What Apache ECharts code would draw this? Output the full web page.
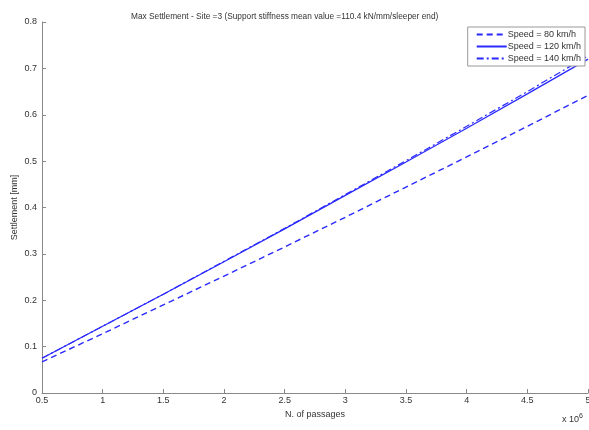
<!DOCTYPE html>
<html>
<head>
<meta charset="utf-8">
<script src="https://cdn.jsdelivr.net/npm/echarts@6/dist/echarts.min.js"></script>
<style>html,body{margin:0;padding:0;background:#fff}#c{width:589px;height:430px}</style>
</head>
<body>
<div id="c"></div>
<script>
var passages = [0.5, 1.0, 1.5, 2.0, 2.5, 3.0, 3.5, 4.0, 4.5, 5.0];
var speed80 = [0.067, 0.128, 0.190, 0.252, 0.315, 0.379, 0.444, 0.509, 0.575, 0.642];
var speed120 = [0.075, 0.144, 0.213, 0.283, 0.354, 0.426, 0.498, 0.571, 0.645, 0.720];
var speed140 = [0.075, 0.144, 0.213, 0.284, 0.355, 0.428, 0.501, 0.575, 0.650, 0.727];
var seriesNames = ['Speed = 80 km/h', 'Speed = 120 km/h', 'Speed = 140 km/h'];
var yTicks = [0, 0.1, 0.2, 0.3, 0.4, 0.5, 0.6, 0.7, 0.8];
var xTicks = [0.5, 1, 1.5, 2, 2.5, 3, 3.5, 4, 4.5, 5];

function pairs(xs, ys) { return xs.map(function (x, i) { return [x, ys[i]]; }); }

var FONT = 'Liberation Sans, Arial, sans-serif';
var TXT = '#333';
var AX = '#888';
var BLUE = '#2a2aff';

var chart = echarts.init(document.getElementById('c'), null, { renderer: 'canvas' });
chart.setOption({
  backgroundColor: '#fff',
  animation: false,
  title: {
    text: 'Max Settlement - Site =3 (Support stiffness mean value =110.4 kN/mm/sleeper end)',
    left: 126, top: 8, textAlign: 'left',
    textStyle: { fontFamily: FONT, fontSize: 8.3, fontWeight: 'normal', color: TXT }
  },
  grid: { left: 42, top: 22, right: 1, bottom: 37, containLabel: false, outerBoundsMode: 'none' },
  legend: {
    orient: 'vertical', right: 4, top: 27,
    backgroundColor: '#fff', borderColor: '#999', borderWidth: 1,
    padding: [3, 4, 3, 8], itemGap: 3, itemWidth: 30, itemHeight: 10,
    itemStyle: { opacity: 0 },
    textStyle: { fontFamily: FONT, fontSize: 9, color: TXT, padding: [0, 0, 0, -4] },
    data: seriesNames
  },
  xAxis: {
    type: 'value', min: xTicks[0], max: xTicks[xTicks.length - 1], interval: 0.5,
    name: 'N. of passages', nameLocation: 'middle', nameGap: 17, nameMoveOverlap: false,
    nameTextStyle: { fontFamily: FONT, fontSize: 9, color: TXT },
    axisLine: { lineStyle: { color: AX, width: 1 } },
    axisTick: { inside: true, length: 4, lineStyle: { color: AX } },
    axisLabel: { fontFamily: FONT, fontSize: 9, color: TXT, margin: 3, showMaxLabel: true, showMinLabel: true,
      formatter: function (v) { return String(v); } },
    splitLine: { show: false }
  },
  yAxis: {
    type: 'value', min: yTicks[0], max: yTicks[yTicks.length - 1], interval: 0.1,
    name: 'Settlement [mm]', nameLocation: 'middle', nameGap: 23, nameRotate: 90, nameMoveOverlap: false,
    nameTextStyle: { fontFamily: FONT, fontSize: 9, color: TXT },
    axisLine: { show: true, lineStyle: { color: AX, width: 1 } },
    axisTick: { show: true, inside: true, length: 4, lineStyle: { color: AX } },
    axisLabel: { fontFamily: FONT, fontSize: 9, color: TXT, margin: 5,
      formatter: function (v) { return String(Math.round(v * 10) / 10); } },
    splitLine: { show: false }
  },
  graphic: [{
    type: 'text', left: 562, top: 413,
    style: {
      text: '{a|x 10}{b|6}',
      rich: {
        a: { fontFamily: FONT, fontSize: 9, fill: TXT },
        b: { fontFamily: FONT, fontSize: 7, fill: TXT, verticalAlign: 'top', padding: [0, 0, 6, 0] }
      }
    }
  }],
  series: [
    { name: seriesNames[0], type: 'line', symbol: 'none', data: pairs(passages, speed80),
      lineStyle: { color: BLUE, width: 1.4, type: [6, 4] }, itemStyle: { color: BLUE } },
    { name: seriesNames[1], type: 'line', symbol: 'none', data: pairs(passages, speed120),
      lineStyle: { color: BLUE, width: 1.3, type: 'solid' }, itemStyle: { color: BLUE } },
    { name: seriesNames[2], type: 'line', symbol: 'none', data: pairs(passages, speed140),
      lineStyle: { color: BLUE, width: 1.2, type: [7, 3, 2, 3] }, itemStyle: { color: BLUE } }
  ]
});
</script>
</body>
</html>
